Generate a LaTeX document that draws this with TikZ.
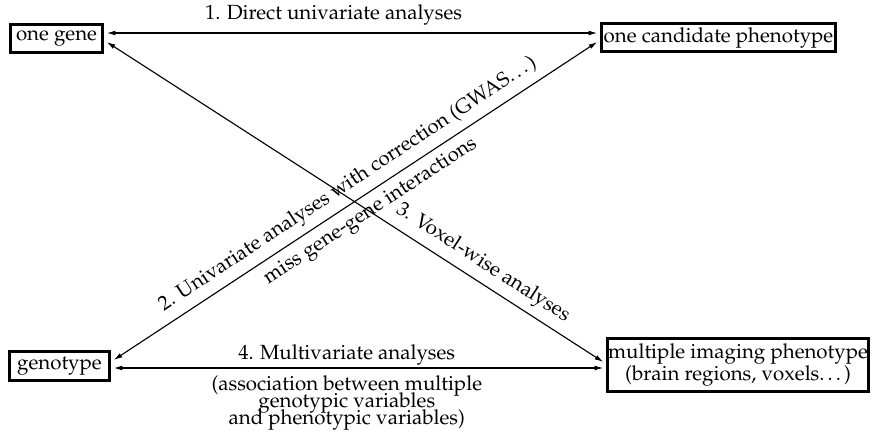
\documentclass[tikz,border=0pt]{standalone}
\usepackage[T1]{fontenc}
\usepackage{mathpazo}
\usetikzlibrary{arrows.meta}
\begin{document}
\begin{tikzpicture}[x=0.488pt,y=-0.488pt,
  box/.style={draw, line width=1.3pt, inner sep=0pt, outer sep=2pt, font=\fontsize{10}{12}\selectfont, align=center},
  arr/.style={{Latex[length=4.2pt,width=2.4pt]}-{Latex[length=4.2pt,width=2.4pt]}, line width=0.55pt},
  lab/.style={font=\fontsize{10}{12}\selectfont}]
\useasboundingbox (0,0) rectangle (872,437);
\node[box, minimum width=45.1pt, minimum height=13.8pt] (gene) at (56.5,38.5) {one gene};
\node[box, minimum width=114.4pt, minimum height=13.8pt] (cand) at (718.5,37.5) {one candidate phenotype};
\node[box, minimum width=49pt, minimum height=14.3pt] (geno) at (59.5,366) {genotype};
\node[box, minimum width=127.5pt, minimum height=26pt] (multi) at (738,365) {multiple imaging phenotype\\[-1.3pt](brain regions, voxels\ldots)\hspace{9.3pt}};
\draw[arr] (gene.east |- 0,33) -- node[lab, pos=0.4625, above] (l1) {1. Direct univariate analyses} (cand.west |- 0,33);
\draw[arr] (geno.east |- 0,360) -- node[lab, sloped, above, pos=0.505] (l2) {2. Univariate analyses with correction (GWAS\ldots)}
  node[lab, sloped, below, pos=0.512] (l2b) {miss gene-gene interactions} (cand.west |- 0,42);
\draw[arr] (gene.east |- 0,42) -- node[lab, sloped, above, pos=0.738] (l3) {3. Voxel-wise analyses} (multi.west |- 0,362);
\draw[arr] (geno.east |- 0,368) -- node[lab, above, pos=0.476, inner sep=1pt] (l4) {4. Multivariate analyses}
  node[lab, below, pos=0.476, align=center] (l4b) {(association between multiple\\[-3.7pt]genotypic variables\\[-3.7pt]and phenotypic variables)} (multi.west |- 0,368);
\end{tikzpicture}
\end{document}
